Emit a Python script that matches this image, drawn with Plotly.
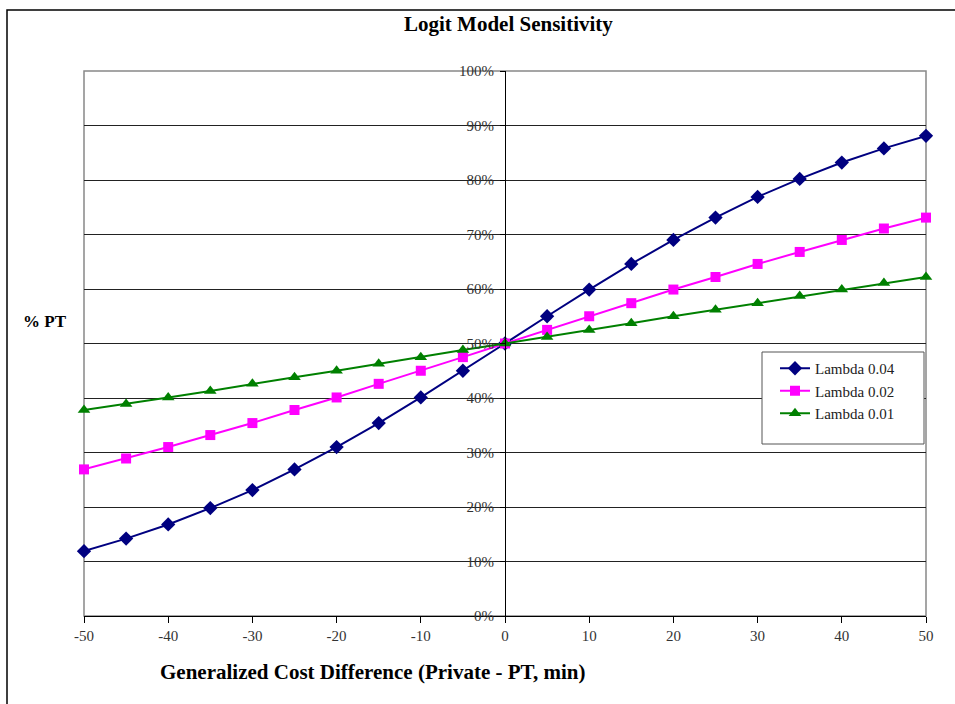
import plotly.graph_objects as go

x_vals = [-50, -45, -40, -35, -30, -25, -20, -15, -10, -5, 0, 5, 10, 15, 20, 25, 30, 35, 40, 45, 50]
lambda_004 = [0.119, 0.142, 0.168, 0.198, 0.231, 0.269, 0.310, 0.354, 0.401, 0.450, 0.500,
              0.550, 0.599, 0.646, 0.690, 0.731, 0.769, 0.802, 0.832, 0.858, 0.881]
lambda_002 = [0.269, 0.289, 0.310, 0.332, 0.354, 0.378, 0.401, 0.426, 0.450, 0.475, 0.500,
              0.525, 0.550, 0.574, 0.599, 0.622, 0.646, 0.668, 0.690, 0.711, 0.731]
lambda_001 = [0.378, 0.389, 0.401, 0.413, 0.426, 0.438, 0.450, 0.463, 0.475, 0.488, 0.500,
              0.512, 0.525, 0.537, 0.550, 0.562, 0.574, 0.587, 0.599, 0.611, 0.622]
series_names = ["Lambda 0.04", "Lambda 0.02", "Lambda 0.01"]
x_tick_vals = [-50, -40, -30, -20, -10, 0, 10, 20, 30, 40, 50]
x_tick_text = ["-50", "-40", "-30", "-20", "-10", "0", "10", "20", "30", "40", "50"]

FONT = "Liberation Serif, Times New Roman, serif"
W, H = 955, 704
L, R, T, B = 84, 29, 71, 88
pw, ph = W - L - R, H - T - B

def px_x(p):
    return (p - L) / pw

def px_y(p):
    return (H - B - p) / ph

fig = go.Figure()
styles = [
    ("#000080", "diamond", 11),
    ("#FF00FF", "square", 10),
    ("#008000", "triangle-up", 11),
]
for name, ys, (c, sym, sz) in zip(series_names, [lambda_004, lambda_002, lambda_001], styles):
    fig.add_trace(go.Scatter(
        x=x_vals, y=ys, name=name, mode="lines+markers",
        line=dict(color=c, width=2),
        marker=dict(symbol=sym, size=sz, color=c),
        cliponaxis=False,
    ))

fig.update_layout(
    width=W, height=H,
    margin=dict(l=L, r=R, t=T, b=B),
    paper_bgcolor="white", plot_bgcolor="white",
    font=dict(family=FONT, color="#222", size=13),
    showlegend=True,
    legend=dict(
        x=px_x(775), y=px_y(352), xanchor="left", yanchor="top",
        bgcolor="rgba(0,0,0,0)", borderwidth=0,
        font=dict(family=FONT, size=15, color="#222"),
        itemwidth=30, tracegroupgap=0,
    ),
    xaxis=dict(
        range=[-50, 50], tickvals=x_tick_vals, ticktext=x_tick_text,
        showgrid=False, zeroline=False,
        showline=True, linecolor="black", linewidth=1,
        ticks="outside", ticklen=6, tickcolor="black",
        tickfont=dict(family=FONT, size=15, color="#333"),
        domain=[0, 1],
    ),
    yaxis=dict(
        range=[0, 1], dtick=0.1, tickformat=".0%",
        anchor="free", position=0.5,
        showgrid=True, gridcolor="#222", gridwidth=1,
        zeroline=False,
        showline=True, linecolor="black", linewidth=1,
        ticks="outside", ticklen=5, tickcolor="black",
        ticklabelstandoff=3,
        tickfont=dict(family=FONT, size=15, color="#333"),
    ),
    shapes=[
        dict(type="rect", xref="paper", yref="paper", x0=0, x1=1, y0=0, y1=1,
             line=dict(color="#888", width=1.5), layer="below"),
        dict(type="rect", xref="paper", yref="paper",
             x0=px_x(7), x1=px_x(W + 20), y0=px_y(10), y1=px_y(H + 20),
             line=dict(color="black", width=1.5), layer="below"),
        dict(type="rect", xref="paper", yref="paper",
             x0=px_x(762), x1=px_x(924), y0=px_y(352), y1=px_y(444),
             line=dict(color="#555", width=1), fillcolor="white", layer="above"),
    ],
    annotations=[
        dict(text="<b>Logit Model Sensitivity</b>", xref="paper", yref="paper",
             x=px_x(508), y=px_y(24), xanchor="center", yanchor="middle",
             showarrow=False, font=dict(family=FONT, size=21, color="black")),
        dict(text="<b>% PT</b>", xref="paper", yref="paper",
             x=px_x(21), y=px_y(321), xanchor="left", yanchor="middle",
             showarrow=False, font=dict(family=FONT, size=17, color="black")),
        dict(text="<b>Generalized Cost Difference (Private - PT, min)</b>", xref="paper", yref="paper",
             x=px_x(373), y=px_y(672), xanchor="center", yanchor="middle",
             showarrow=False, font=dict(family=FONT, size=21, color="black")),
    ],
)

fig.write_html("out.html")
